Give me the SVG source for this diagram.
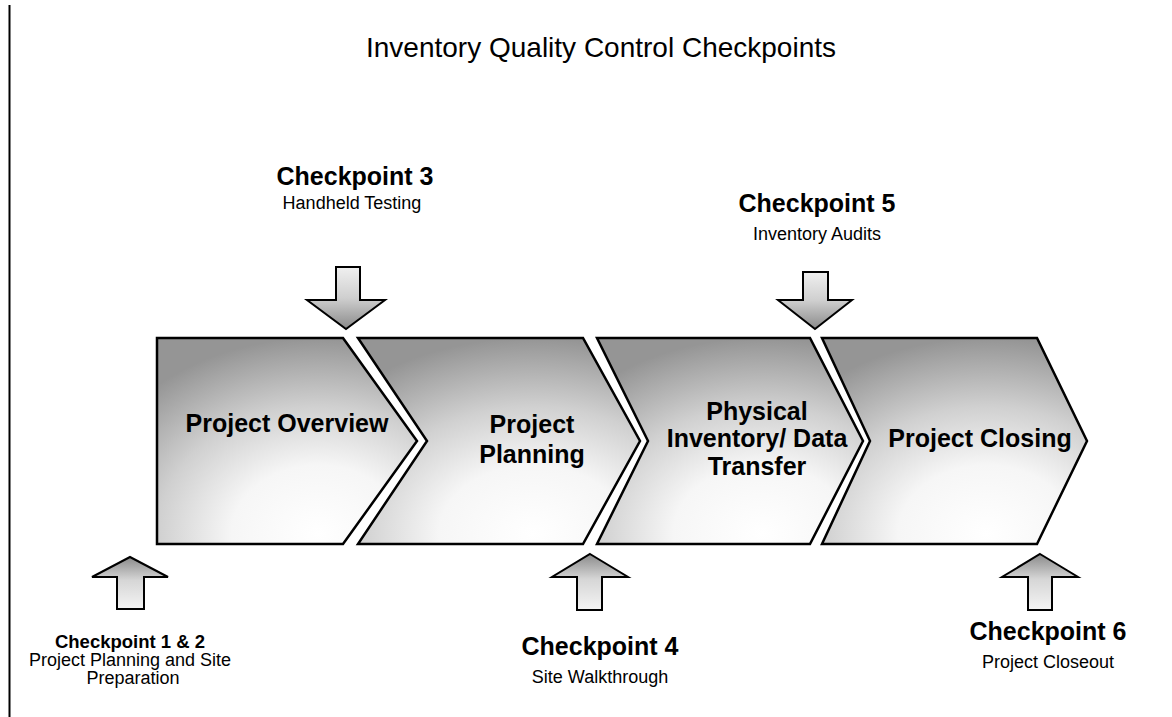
<svg xmlns="http://www.w3.org/2000/svg" width="1172" height="717" viewBox="0 0 1172 717">
  <style>
    .bg { fill: #ffffff; }
    .chev { fill: url(#chevFill); stroke: #000; stroke-width: 2.5; stroke-linejoin: miter; }
    .arrDown { fill: url(#arrDownFill); stroke: #000; stroke-width: 2; stroke-linejoin: miter; }
    .arrUp { fill: url(#arrUpFill); stroke: #000; stroke-width: 2; stroke-linejoin: miter; }
    text { font-family: "Liberation Sans", Arial, Helvetica, sans-serif; fill: #000; text-anchor: middle; }
    .title { font-size: 28px; }
    .node { font-size: 25px; font-weight: bold; }
    .cp { font-size: 25px; font-weight: bold; }
    .cpSmall { font-size: 18.5px; font-weight: bold; }
    .sub { font-size: 18px; }
  </style>
  <defs>
    <radialGradient id="chevFill" cx="0.62" cy="0.95" r="0.95" fx="0.62" fy="0.95">
      <stop offset="0" stop-color="#ffffff"/>
      <stop offset="0.35" stop-color="#f6f6f6"/>
      <stop offset="0.65" stop-color="#d0d0d0"/>
      <stop offset="0.9" stop-color="#a6a6a6"/>
      <stop offset="1" stop-color="#959595"/>
    </radialGradient>
    <linearGradient id="arrDownFill" x1="0" y1="0" x2="0" y2="1">
      <stop offset="0" stop-color="#f0f0f0"/>
      <stop offset="0.5" stop-color="#cfcfcf"/>
      <stop offset="1" stop-color="#8a8a8a"/>
    </linearGradient>
    <linearGradient id="arrUpFill" x1="0" y1="1" x2="0" y2="0">
      <stop offset="0" stop-color="#f4f4f4"/>
      <stop offset="0.55" stop-color="#d6d6d6"/>
      <stop offset="1" stop-color="#8a8a8a"/>
    </linearGradient>
  </defs>

  <rect class="bg" x="0" y="0" width="1172" height="717"/>
  <line x1="9.5" y1="5" x2="9.5" y2="717" stroke="#000" stroke-width="2"/>

  <text class="title" x="601" y="57">Inventory Quality Control Checkpoints</text>

  <g id="chevron-project-overview">
    <path class="chev" d="M157,338 L343,338 L417,441 L343,544 L157,544 Z"/>
    <text class="node" x="287" y="432">Project Overview</text>
  </g>
  <g id="chevron-project-planning">
    <path class="chev" d="M358,338 L583,338 L640,441 L583,544 L358,544 L427,441 Z"/>
    <text class="node" x="532" y="433">Project</text>
    <text class="node" x="532" y="463">Planning</text>
  </g>
  <g id="chevron-physical-inventory">
    <path class="chev" d="M597,338 L810,338 L863,441 L810,544 L597,544 L648,441 Z"/>
    <text class="node" x="757" y="420">Physical</text>
    <text class="node" x="757" y="447">Inventory/ Data</text>
    <text class="node" x="757" y="475">Transfer</text>
  </g>
  <g id="chevron-project-closing">
    <path class="chev" d="M822,338 L1037,338 L1087,441 L1037,544 L822,544 L870,441 Z"/>
    <text class="node" x="980" y="447">Project Closing</text>
  </g>

  <g id="connectors">
    <path class="arrDown" d="M336,267 L360,267 L360,300 L385,300 L346,329 L307,300 L336,300 Z"/>
    <path class="arrDown" d="M803,272 L828,272 L828,300 L852,300 L815,329 L778,300 L803,300 Z"/>
    <path class="arrUp" d="M130,557 L168,577 L144,577 L144,609 L117,609 L117,577 L92,577 Z"/>
    <path class="arrUp" d="M590,554 L628,577 L602,577 L602,610 L577,610 L577,577 L552,577 Z"/>
    <path class="arrUp" d="M1040,554 L1078,577 L1052,577 L1052,610 L1028,610 L1028,577 L1002,577 Z"/>
  </g>

  <g id="checkpoint-3">
    <text class="cp" x="355" y="185">Checkpoint 3</text>
    <text class="sub" x="352" y="209">Handheld Testing</text>
  </g>
  <g id="checkpoint-5">
    <text class="cp" x="817" y="212">Checkpoint 5</text>
    <text class="sub" x="817" y="240">Inventory Audits</text>
  </g>
  <g id="checkpoint-1-2">
    <text class="cpSmall" x="130" y="648">Checkpoint 1 &amp; 2</text>
    <text class="sub" x="130" y="666">Project Planning and Site</text>
    <text class="sub" x="133" y="684">Preparation</text>
  </g>
  <g id="checkpoint-4">
    <text class="cp" x="600" y="655">Checkpoint 4</text>
    <text class="sub" x="600" y="683">Site Walkthrough</text>
  </g>
  <g id="checkpoint-6">
    <text class="cp" x="1048" y="640">Checkpoint 6</text>
    <text class="sub" x="1048" y="668">Project Closeout</text>
  </g>
</svg>
